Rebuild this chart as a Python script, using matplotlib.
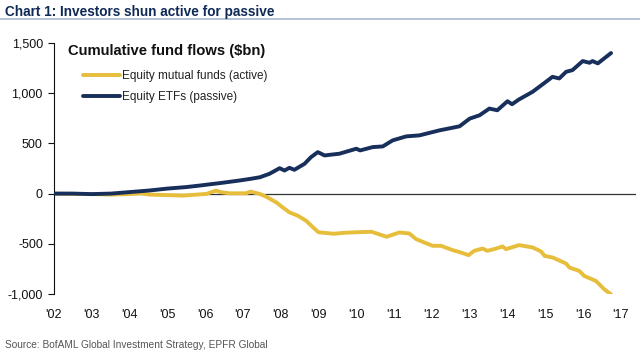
import matplotlib
matplotlib.use("Agg")
import matplotlib.pyplot as plt

# cumulative flows, $bn (x in fractional years)
etf_years = [2002.0, 2002.5, 2003.0, 2003.5, 2004.0, 2004.5, 2005.0, 2005.5, 2005.85, 2006.5,
             2006.9, 2007.2, 2007.45, 2007.7, 2007.97, 2008.1, 2008.23, 2008.36, 2008.63, 2008.8,
             2008.98, 2009.16, 2009.38, 2009.55, 2010.0, 2010.1, 2010.43, 2010.7, 2010.96, 2011.32,
             2011.67, 2012.2, 2012.73, 2013.0, 2013.26, 2013.52, 2013.73, 2014.0, 2014.12, 2014.3,
             2014.66, 2014.98, 2015.19, 2015.37, 2015.55, 2015.72, 2015.99, 2016.17, 2016.25, 2016.39,
             2016.74]
etf_flows = [0, 0, -5, 0, 15, 30, 50, 65, 80, 110,
             130, 147, 163, 197, 253, 230, 257, 237, 297, 363,
             413, 380, 390, 397, 447, 430, 463, 470, 530, 570,
             580, 630, 670, 747, 780, 847, 830, 920, 890, 937,
             1013, 1103, 1163, 1147, 1213, 1230, 1320, 1303, 1320, 1297,
             1400]

mf_years = [2002.0, 2002.5, 2003.0, 2003.5, 2004.0, 2004.3, 2004.53, 2005.0, 2005.41, 2006.03,
            2006.29, 2006.4, 2006.64, 2007.08, 2007.2, 2007.44, 2007.61, 2007.88, 2008.05, 2008.23,
            2008.45, 2008.67, 2008.85, 2009.0, 2009.4, 2009.7, 2010.0, 2010.4, 2010.8, 2011.14,
            2011.4, 2011.58, 2011.8, 2012.02, 2012.24, 2012.55, 2012.77, 2012.97, 2013.12, 2013.34,
            2013.47, 2013.7, 2013.87, 2013.96, 2014.31, 2014.67, 2014.89, 2014.98, 2015.2, 2015.55,
            2015.64, 2015.9, 2016.03, 2016.34, 2016.56, 2016.74]
mf_flows = [0, -3, -5, -10, -5, 3, -10, -15, -20, -3,
            30, 15, 3, 3, 20, -3, -30, -87, -137, -187,
            -220, -270, -335, -385, -400, -390, -385, -380, -430, -387,
            -397, -453, -487, -520, -520, -563, -587, -613, -570, -547,
            -570, -547, -527, -553, -513, -537, -577, -620, -637, -697,
            -737, -770, -820, -870, -953, -1003]

tick_years = list(range(2002, 2018))
tick_labels = ["'%02d" % (y % 100) for y in tick_years]
y_ticks = [-1000, -500, 0, 500, 1000, 1500]

navy = "#172f5a"
gold = "#e6be3c"
plt.rcParams["font.family"] = ["Liberation Sans", "DejaVu Sans"]

fig = plt.figure(figsize=(6.4, 3.56), dpi=100)
ax = fig.add_axes([54 / 640, 1 - 294 / 356, 582 / 640, 251 / 356])

ax.axhline(0, color="#333333", lw=0.9, zorder=1)
ax.plot(mf_years, mf_flows, color=gold, lw=2.8, label="Equity mutual funds (active)", zorder=2,
        solid_capstyle="round", solid_joinstyle="round")
ax.plot(etf_years, etf_flows, color=navy, lw=2.8, label="Equity ETFs (passive)", zorder=3,
        solid_capstyle="round", solid_joinstyle="round")

ax.set_xlim(2002, 2017.4)
ax.set_ylim(-1000, 1500)
ax.set_yticks(y_ticks)
ax.set_yticklabels([f"{v:,}" for v in y_ticks])
ax.set_xticks(tick_years)
ax.set_xticklabels(tick_labels)
ax.tick_params(axis="y", length=4, width=0.8, labelsize=9, pad=4, colors="#111111")
ax.tick_params(axis="x", length=0, labelsize=9, pad=11, colors="#111111")
for side in ["top", "right", "bottom"]:
    ax.spines[side].set_visible(False)
ax.spines["left"].set_color("#111111")
ax.spines["left"].set_linewidth(0.8)

ax.text(0.024, 0.995, "Cumulative fund flows ($bn)", transform=ax.transAxes,
        fontsize=10.6, fontweight="bold", va="top", ha="left", color="#111111")
leg = ax.legend(loc="upper left", bbox_to_anchor=(0.041, 0.912), frameon=False,
                fontsize=8.5, handlelength=3.2, handletextpad=0.15, labelspacing=0.8,
                borderaxespad=0)
for t in leg.get_texts():
    t.set_color("#222222")

fig.text(5 / 640, 1 - 12 / 356, "Chart 1: Investors shun active for passive",
         fontsize=9.8, fontweight="bold", color="#0f2a57", va="center", ha="left")
fig.add_artist(plt.Line2D([0, 1], [1 - 19 / 356, 1 - 19 / 356], color="#a8b6d0", lw=1.2,
                          transform=fig.transFigure))
fig.text(5 / 640, 1 - 345 / 356, "Source: BofAML Global Investment Strategy, EPFR Global",
         fontsize=7.3, color="#555555", va="center", ha="left")

fig.savefig("out.png", dpi=100)
